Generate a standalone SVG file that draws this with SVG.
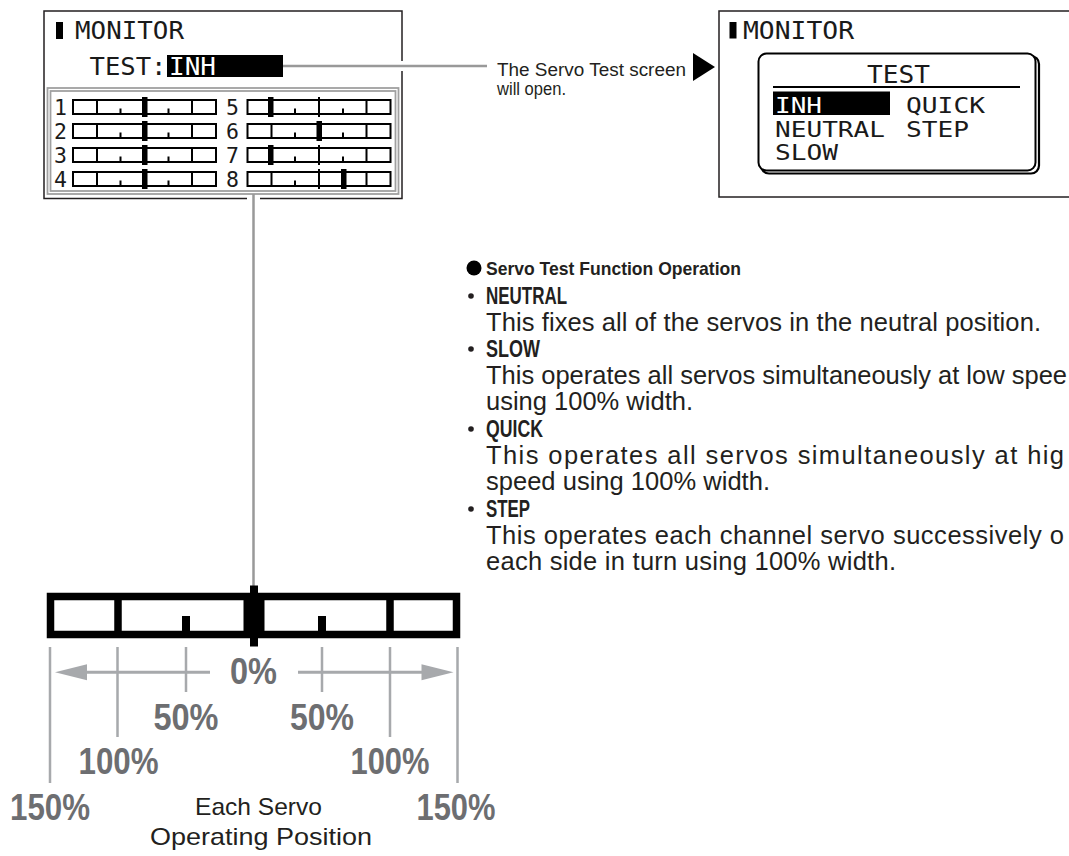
<svg xmlns="http://www.w3.org/2000/svg" xmlns:xlink="http://www.w3.org/1999/xlink" width="1069" height="856" viewBox="0 0 1069 856">
<style>
.lcd{font-family:"DejaVu Sans Mono","Liberation Mono",monospace;font-size:24px;fill:#1a1a1a}
.lcds{font-family:"DejaVu Sans Mono","Liberation Mono",monospace;font-size:21.5px;fill:#1a1a1a}
.lcdw{font-family:"DejaVu Sans Mono","Liberation Mono",monospace;font-size:24px;fill:#fff}
.lcdsw{font-family:"DejaVu Sans Mono","Liberation Mono",monospace;font-size:21.5px;fill:#fff}
.pct{font-family:"Liberation Sans Narrow","Liberation Sans",sans-serif;font-weight:bold;font-size:37px;fill:#6d6e71}
.cap{font-family:"Liberation Sans",sans-serif;font-size:24px;fill:#231f20}
.body{font-family:"Liberation Sans",sans-serif;font-size:25.5px;fill:#231f20}
.hd{font-family:"Liberation Sans",sans-serif;font-weight:bold;font-size:23px;fill:#231f20}
.call{font-family:"Liberation Sans",sans-serif;font-size:18px;fill:#231f20}
.gl{stroke:#a7a9ac;stroke-width:2.5;fill:none}
</style>
<defs>
<g id="chbar">
<rect x="-71.5" y="1" width="143" height="14" fill="#fff" stroke="#000" stroke-width="2"/>
<path d="M-47.5 1V15M47.5 1V15M-24 9.5V15M24 9.5V15M0 -2V18" stroke="#000" stroke-width="2" fill="none"/>
</g>
</defs>
<rect width="1069" height="856" fill="#fff"/>

<g id="left-monitor">
<rect x="44" y="11" width="358" height="187.5" fill="#fff" stroke="#231f20" stroke-width="1.5"/>
<rect x="56" y="22" width="7" height="17" fill="#000"/>
<text class="lcd" x="75" y="39" textLength="109" lengthAdjust="spacingAndGlyphs">MONITOR</text>
<text class="lcd" x="89.5" y="75" textLength="77" lengthAdjust="spacingAndGlyphs">TEST:</text>
<rect x="167" y="55" width="116" height="22" fill="#000"/>
<text class="lcdw" x="169" y="75" textLength="47" lengthAdjust="spacingAndGlyphs">INH</text>
<rect x="47.5" y="88" width="351" height="106" fill="none" stroke="#a0a0a0" stroke-width="1.8"/>
<rect x="50.5" y="91" width="345" height="100" fill="none" stroke="#a0a0a0" stroke-width="1.8"/>
<g class="lcds">
<text x="54" y="115">1</text><text x="54" y="139">2</text><text x="54" y="163">3</text><text x="54" y="187">4</text>
<text x="226" y="115">5</text><text x="226" y="139">6</text><text x="226" y="163">7</text><text x="226" y="187">8</text>
</g>
<use xlink:href="#chbar" transform="translate(144.5,99)"/>
<use xlink:href="#chbar" transform="translate(144.5,123)"/>
<use xlink:href="#chbar" transform="translate(144.5,147)"/>
<use xlink:href="#chbar" transform="translate(144.5,171)"/>
<use xlink:href="#chbar" transform="translate(319,99)"/>
<use xlink:href="#chbar" transform="translate(319,123)"/>
<use xlink:href="#chbar" transform="translate(319,147)"/>
<use xlink:href="#chbar" transform="translate(319,171)"/>
<g fill="#000">
<rect x="142" y="97" width="5.5" height="20"/>
<rect x="142" y="121" width="5.5" height="20"/>
<rect x="142" y="145" width="5.5" height="20"/>
<rect x="142" y="169" width="5.5" height="20"/>
<rect x="268" y="97" width="5.5" height="20"/>
<rect x="316.5" y="121" width="5.5" height="20"/>
<rect x="268" y="145" width="5.5" height="20"/>
<rect x="341" y="169" width="5.5" height="20"/>
</g>
</g>

<g id="right-monitor">
<rect x="719" y="11" width="370" height="186" fill="#fff" stroke="#231f20" stroke-width="1.5"/>
<rect x="729.5" y="22" width="7" height="16.5" fill="#000"/>
<text class="lcd" x="743" y="38.5" textLength="111" lengthAdjust="spacingAndGlyphs">MONITOR</text>
<rect x="761" y="56" width="278" height="117.5" rx="8" fill="none" stroke="#000" stroke-width="2.2"/>
<rect x="758.5" y="53.5" width="277" height="117" rx="8" fill="#fff" stroke="#000" stroke-width="2"/>
<text class="lcd" x="867" y="82.5" textLength="63" lengthAdjust="spacingAndGlyphs">TEST</text>
<path d="M773 87H1020" stroke="#000" stroke-width="2"/>
<rect x="773" y="91.5" width="117" height="23.5" fill="#000"/>
<text class="lcdsw" x="775" y="113" textLength="47" lengthAdjust="spacingAndGlyphs">INH</text>
<text class="lcds" x="906" y="113" textLength="79" lengthAdjust="spacingAndGlyphs">QUICK</text>
<text class="lcds" x="775" y="136.5" textLength="110" lengthAdjust="spacingAndGlyphs">NEUTRAL</text>
<text class="lcds" x="906" y="136.5" textLength="63" lengthAdjust="spacingAndGlyphs">STEP</text>
<text class="lcds" x="775" y="160" textLength="63" lengthAdjust="spacingAndGlyphs">SLOW</text>
</g>

<g id="callout">
<text class="call" x="497" y="76" textLength="189" lengthAdjust="spacingAndGlyphs">The Servo Test screen</text>
<text class="call" x="497" y="95" textLength="69" lengthAdjust="spacingAndGlyphs">will open.</text>
<polygon points="693,53 715,67 693,81" fill="#000"/>
</g>

<g id="connectors">
<path d="M398 66H407" stroke="#fff" stroke-width="10"/>
<path d="M283 66H487" stroke="#999" stroke-width="2.5"/>
<path d="M253.5 196V200" stroke="#fff" stroke-width="13"/>
<path d="M253.5 194V586" stroke="#999" stroke-width="2.5"/>
</g>

<g id="servo-bar">
<rect x="50.5" y="596.5" width="406" height="38" fill="#fff" stroke="#000" stroke-width="7.5"/>
<path d="M118 596.5V634.5M390 596.5V634.5" stroke="#000" stroke-width="7.5"/>
<path d="M186 616V632M322 616V632" stroke="#000" stroke-width="8"/>
<rect x="243.5" y="596.5" width="21" height="38" fill="#000"/>
<rect x="250" y="585.5" width="8" height="61" fill="#000"/>
</g>

<g id="scale">
<path class="gl" d="M50 647V783M457.5 647V783M117.5 647V737M390 647V737M186 647V692M322 647V692"/>
<path d="M84 672.3H210M298 672.3H424" stroke="#a7a9ac" stroke-width="3"/>
<polygon points="55,672.3 87,664.3 87,680.3" fill="#a7a9ac"/>
<polygon points="453.5,672.3 421.5,664.3 421.5,680.3" fill="#a7a9ac"/>
<text class="pct" x="230" y="684" textLength="47" lengthAdjust="spacingAndGlyphs">0%</text>
<text class="pct" x="153.5" y="729.5" textLength="65" lengthAdjust="spacingAndGlyphs">50%</text>
<text class="pct" x="290" y="729.5" textLength="64" lengthAdjust="spacingAndGlyphs">50%</text>
<text class="pct" x="78.5" y="774" textLength="80" lengthAdjust="spacingAndGlyphs">100%</text>
<text class="pct" x="350.5" y="774" textLength="79" lengthAdjust="spacingAndGlyphs">100%</text>
<text class="pct" x="10" y="820" textLength="80" lengthAdjust="spacingAndGlyphs">150%</text>
<text class="pct" x="416.5" y="820" textLength="79" lengthAdjust="spacingAndGlyphs">150%</text>
<text class="cap" x="195" y="815" textLength="127" lengthAdjust="spacingAndGlyphs">Each Servo</text>
<text class="cap" x="150" y="845" textLength="222" lengthAdjust="spacingAndGlyphs">Operating Position</text>
</g>

<g id="function-list">
<circle cx="474" cy="268" r="7.5" fill="#000"/>
<text class="hd" x="486" y="275" style="font-size:19px" textLength="255" lengthAdjust="spacingAndGlyphs">Servo Test Function Operation</text>
<g fill="#231f20">
<circle cx="471" cy="296" r="2.8"/>
<circle cx="471" cy="349" r="2.8"/>
<circle cx="471" cy="429" r="2.8"/>
<circle cx="471" cy="509" r="2.8"/>
</g>
<text class="hd" x="486" y="304" textLength="81" lengthAdjust="spacingAndGlyphs">NEUTRAL</text>
<text class="body" x="486" y="331" textLength="555" lengthAdjust="spacing">This fixes all of the servos in the neutral position.</text>
<text class="hd" x="486" y="357" textLength="54" lengthAdjust="spacingAndGlyphs">SLOW</text>
<text class="body" x="486" y="384" textLength="581" lengthAdjust="spacing">This operates all servos simultaneously at low spee</text>
<text class="body" x="486" y="410" textLength="207" lengthAdjust="spacing">using 100% width.</text>
<text class="hd" x="486" y="437" textLength="57" lengthAdjust="spacingAndGlyphs">QUICK</text>
<text class="body" x="486" y="464" textLength="578" lengthAdjust="spacing">This operates all servos simultaneously at hig</text>
<text class="body" x="486" y="490" textLength="284" lengthAdjust="spacing">speed using 100% width.</text>
<text class="hd" x="486" y="517" textLength="44" lengthAdjust="spacingAndGlyphs">STEP</text>
<text class="body" x="486" y="544" textLength="578" lengthAdjust="spacing">This operates each channel servo successively o</text>
<text class="body" x="486" y="570" textLength="410" lengthAdjust="spacing">each side in turn using 100% width.</text>
</g>
</svg>
